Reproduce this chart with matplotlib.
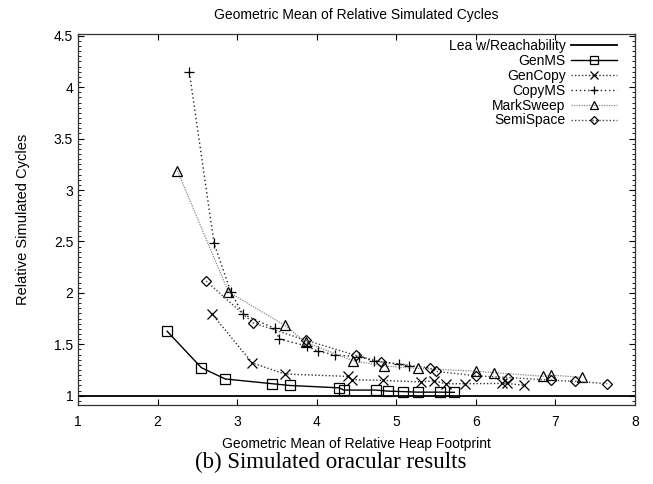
import matplotlib
matplotlib.use('Agg')
import matplotlib.pyplot as plt
from matplotlib.ticker import MultipleLocator

plt.rcParams['font.family'] = ['Liberation Sans', 'DejaVu Sans']

# data
genms_x = [2.12, 2.55, 2.85, 3.44, 3.66, 4.28, 4.34, 4.75, 4.89, 5.09, 5.27, 5.55, 5.73]
genms_y = [1.627, 1.273, 1.163, 1.117, 1.100, 1.077, 1.055, 1.055, 1.045, 1.040, 1.035, 1.035, 1.033]

gencopy_x = [2.68, 3.19, 3.60, 4.39, 4.44, 4.83, 5.31, 5.47, 5.62, 5.86, 6.33, 6.39, 6.60]
gencopy_y = [1.799, 1.319, 1.211, 1.188, 1.156, 1.149, 1.134, 1.146, 1.117, 1.117, 1.12, 1.12, 1.102]

copyms_x = [2.40, 2.71, 2.92, 3.07, 3.47, 3.53, 3.88, 4.01, 4.23, 4.53, 4.72, 5.03, 5.16]
copyms_y = [4.143, 2.481, 2.01, 1.794, 1.655, 1.551, 1.483, 1.434, 1.396, 1.38, 1.337, 1.308, 1.29]

marksweep_x = [2.25, 2.89, 3.60, 3.86, 4.46, 4.85, 5.27, 6.00, 6.23, 6.84, 6.95, 7.33]
marksweep_y = [3.187, 2.01, 1.684, 1.52, 1.34, 1.289, 1.266, 1.238, 1.224, 1.19, 1.2, 1.179]

semispace_x = [2.61, 3.20, 3.86, 4.49, 4.81, 5.42, 5.50, 6.00, 6.41, 6.95, 7.25, 7.65]
semispace_y = [2.115, 1.709, 1.54, 1.393, 1.33, 1.27, 1.237, 1.194, 1.177, 1.151, 1.14, 1.117]

lea_y = 1.0

fig = plt.figure(figsize=(6.53, 4.84), dpi=100)
ax = fig.add_axes([78 / 653, 1 - 405 / 484, (635 - 78) / 653, (405 - 34) / 484])

ax.axhline(lea_y, color='black', lw=1.3, label='Lea w/Reachability')
ax.plot(genms_x, genms_y, color='black', lw=1.0, marker='s', ms=6.5, mfc='none',
        mec='black', mew=0.9, label='GenMS')
ax.plot(gencopy_x, gencopy_y, color='#333333', lw=1.0, ls=(0, (1, 1.5)), marker='x', ms=6.5,
        mec='black', mew=0.9, label='GenCopy')
ax.plot(copyms_x, copyms_y, color='#222222', lw=1.0, ls=(0, (1, 2)), marker='+', ms=7,
        mec='black', mew=0.9, label='CopyMS')
ax.plot(marksweep_x, marksweep_y, color='#888888', lw=0.9, ls=(0, (1, 1)), marker='^', ms=7,
        mfc='none', mec='black', mew=0.9, label='MarkSweep')
ax.plot(semispace_x, semispace_y, color='#444444', lw=1.0, ls=(0, (1, 1.5)), marker='D', ms=5.5,
        mfc='none', mec='black', mew=0.9, label='SemiSpace')

ax.set_xlim(1, 8)
ax.set_ylim(0.91, 4.517)
ax.xaxis.set_major_locator(MultipleLocator(1))
ax.yaxis.set_minor_locator(MultipleLocator(0.05))
ax.set_yticks([1, 1.5, 2, 2.5, 3, 3.5, 4, 4.5])
ax.set_yticklabels(['1', '1.5', '2', '2.5', '3', '3.5', '4', '4.5'])
ax.tick_params(which='both', direction='in', top=True, right=True, labelsize=10)
ax.tick_params(which='major', length=4, width=0.8)
ax.tick_params(which='minor', length=2.5, width=0.6)
ax.tick_params(axis='x', which='minor', top=False, bottom=False)
ax.tick_params(axis='x', pad=7)
for s in ax.spines.values():
    s.set_linewidth(0.9)
    s.set_color('#333333')

ax.set_title('Geometric Mean of Relative Simulated Cycles', fontsize=10, pad=11)
ax.set_xlabel('Geometric Mean of Relative Heap Footprint', fontsize=10, labelpad=6)
ax.set_ylabel('Relative Simulated Cycles', fontsize=10.5, labelpad=17)

leg = ax.legend(loc='upper right', frameon=False, markerfirst=False, fontsize=10,
                handlelength=3.3, handletextpad=0.4, labelspacing=0.06, numpoints=1,
                markerscale=0.8, borderaxespad=0.3, bbox_to_anchor=(0.985, 1.012))

fig.text(331 / 653, 1 - 462 / 484, '(b) Simulated oracular results', ha='center', va='center',
         fontsize=16.5, family=['Liberation Serif', 'DejaVu Serif'])

fig.savefig('out.png', dpi=100)
